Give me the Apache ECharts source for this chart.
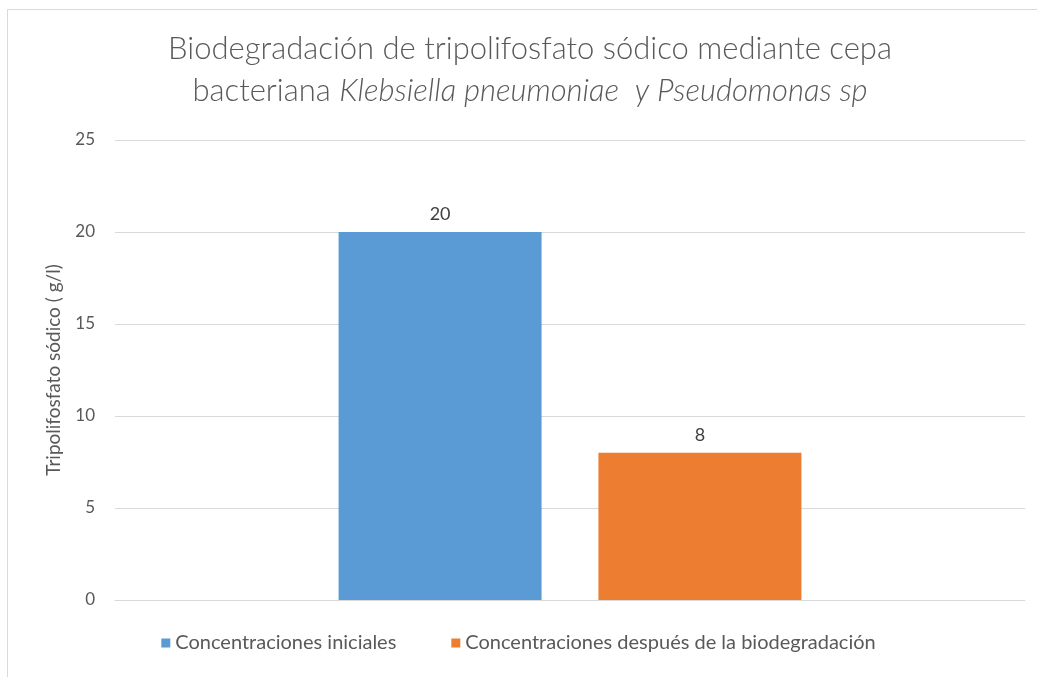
<!DOCTYPE html>
<html>
<head>
<meta charset="utf-8">
<script src="https://cdn.jsdelivr.net/npm/echarts@6/dist/echarts.min.js"></script>
<style>
  html, body { margin: 0; padding: 0; background: #fff; }
  #chart { width: 1037px; height: 677px; }
</style>
</head>
<body>
<div id="chart"></div>
<script>
// datos
var categories = [''];
var seriesNames = ['Concentraciones iniciales', 'Concentraciones después de la biodegradación'];
var iniciales = [20];
var despues = [8];
var yTicks = [0, 5, 10, 15, 20, 25];

var chart = echarts.init(document.getElementById('chart'));
var font = 'Lato, "Open Sans", sans-serif';

chart.setOption({
  backgroundColor: '#fff',
  textStyle: { fontFamily: font },
  graphic: [
    {
      type: 'rect',
      shape: { x: 7.5, y: 9.5, width: 1100, height: 700 },
      style: { fill: 'none', stroke: '#d9d9d9', lineWidth: 1 },
      silent: true
    },
    {
      type: 'text',
      x: 530,
      y: 28,
      style: {
        text: '{n|Biodegradación de tripolifosfato sódico mediante cepa}\n{n|bacteriana }{i|Klebsiella pneumoniae  y Pseudomonas sp}',
        align: 'center',
        lineHeight: 42,
        rich: {
          n: { fontFamily: font, fontSize: 31, fontWeight: 300, fill: '#595959', lineHeight: 42 },
          i: { fontFamily: font, fontSize: 31, fontWeight: 300, fontStyle: 'italic', fill: '#595959', lineHeight: 42 }
        }
      }
    }
  ],
  legend: {
    bottom: 19,
    left: 'center',
    itemWidth: 9,
    itemHeight: 9,
    itemGap: 55,
    icon: 'rect',
    textStyle: { color: '#595959', fontSize: 20, fontFamily: font },
    data: seriesNames
  },
  grid: { left: 115, right: 12, top: 140, bottom: 77 },
  xAxis: {
    type: 'category',
    data: categories,
    axisLine: { lineStyle: { color: '#d9d9d9' } },
    axisTick: { show: false },
    axisLabel: { show: false }
  },
  yAxis: {
    type: 'value',
    min: yTicks[0],
    max: yTicks[yTicks.length - 1],
    interval: 5,
    name: 'Tripolifosfato sódico ( g/l)',
    nameLocation: 'middle',
    nameGap: 52,
    nameTextStyle: { color: '#595959', fontSize: 19, fontFamily: font },
    axisLine: { show: false },
    axisTick: { show: false },
    axisLabel: { color: '#595959', fontSize: 17, margin: 20, fontFamily: font },
    splitLine: { lineStyle: { color: '#d9d9d9' } }
  },
  series: [
    {
      name: seriesNames[0],
      type: 'bar',
      data: iniciales,
      barWidth: 203,
      barGap: '28%',
      itemStyle: { color: '#5b9bd5' },
      label: { show: true, position: 'top', distance: 9, color: '#404040', fontSize: 18, fontFamily: font }
    },
    {
      name: seriesNames[1],
      type: 'bar',
      data: despues,
      barWidth: 203,
      itemStyle: { color: '#ed7d31' },
      label: { show: true, position: 'top', distance: 9, color: '#404040', fontSize: 18, fontFamily: font }
    }
  ]
});
</script>
</body>
</html>
